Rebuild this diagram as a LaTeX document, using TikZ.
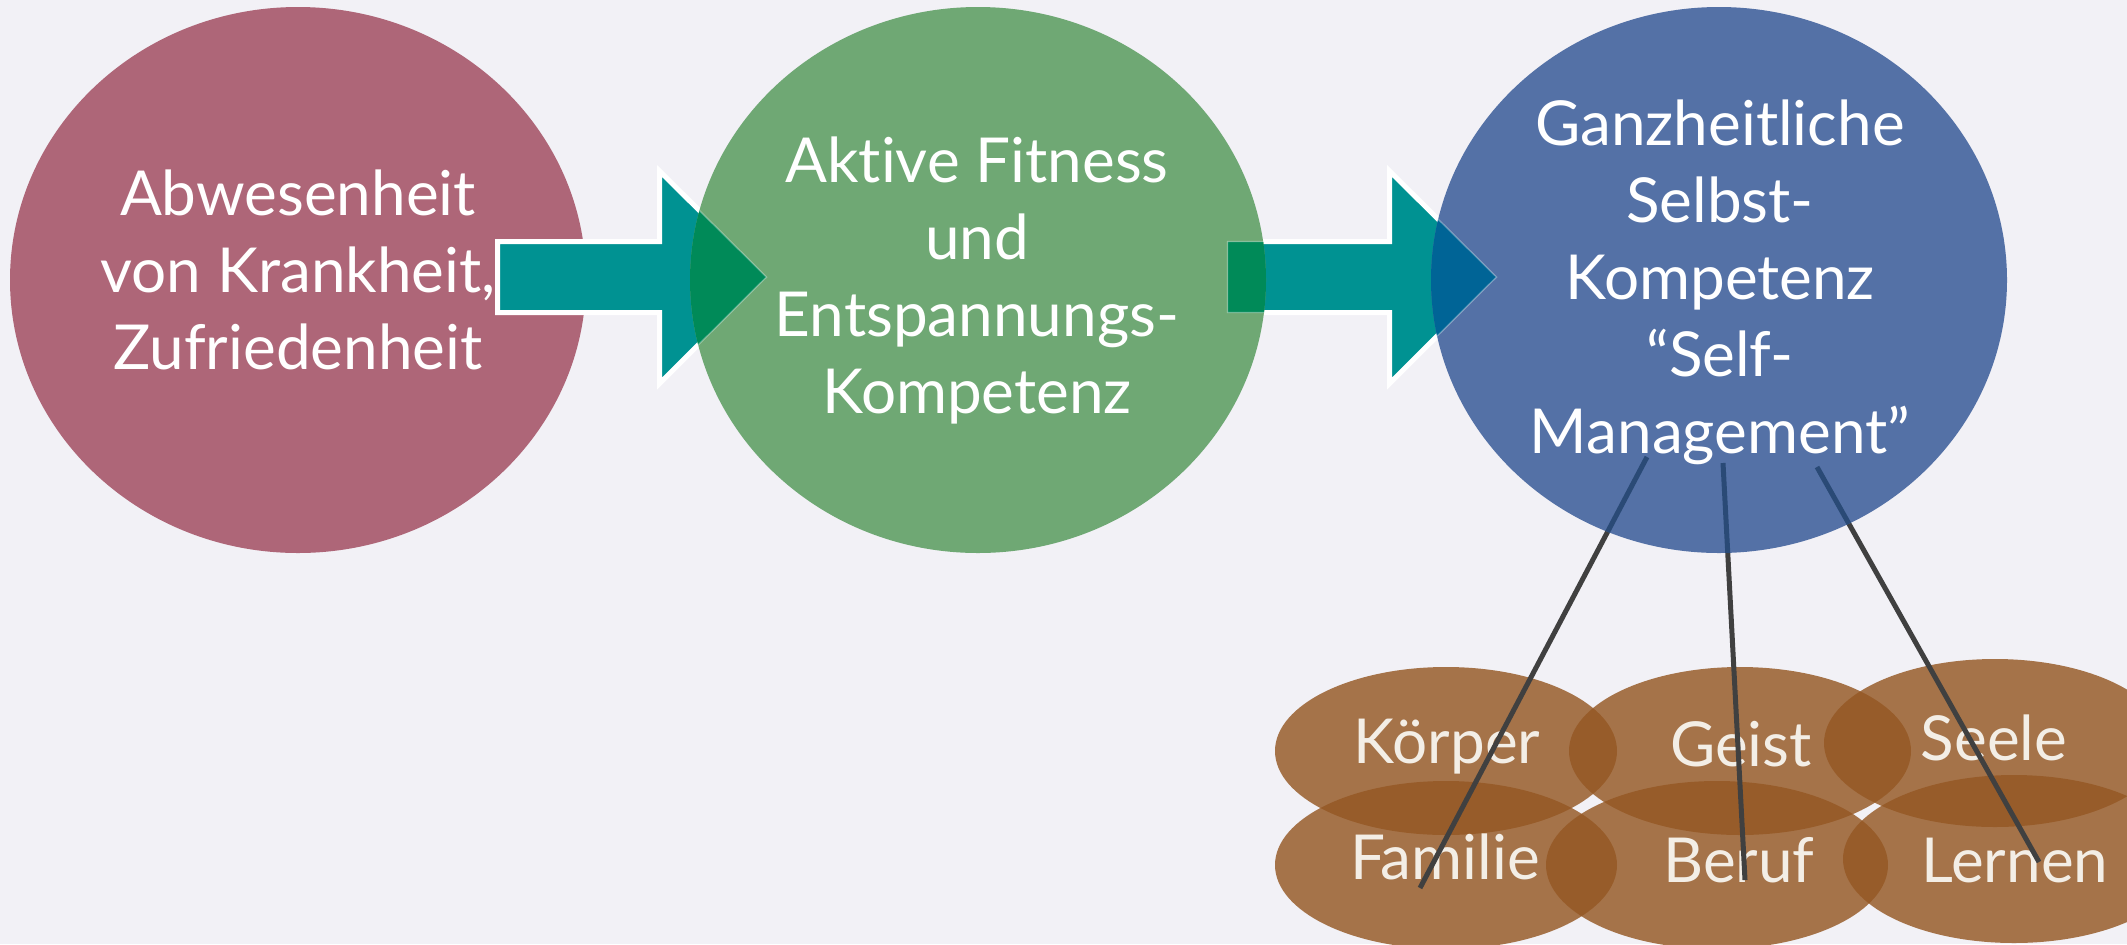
\documentclass[tikz,border=0pt]{standalone}
\usepackage{fontspec}
\setmainfont{Lato}[Ligatures=CommonOff]
\usetikzlibrary{shapes.geometric}
\definecolor{cBg}{RGB}{242,241,246}
\definecolor{cMaroon}{RGB}{174,102,120}
\definecolor{cGreen}{RGB}{111,168,116}
\definecolor{cBlue}{RGB}{84,113,166}
\definecolor{cTeal}{RGB}{0,146,146}
\definecolor{cTealG}{RGB}{0,138,88}
\definecolor{cTealB}{RGB}{0,100,150}
\definecolor{cBrown}{RGB}{149,88,36}
\definecolor{cLine}{RGB}{64,64,64}
\definecolor{cLineB}{RGB}{42,74,118}
\definecolor{cCream}{RGB}{243,238,230}
\newcommand\tfont{\fontsize{31pt}{38.5pt}\selectfont}
\newcommand\arrowshape{(497.5,241.5) -- (659.5,241.5) -- (659.5,171) -- (766.5,277) -- (659.5,383.5) -- (659.5,312.5) -- (497.5,312.5) -- cycle}
\newcommand\lines[1]{\begin{tabular}[t]{@{}c@{}}#1\end{tabular}}
\tikzset{
  bigell/.style={ellipse, inner sep=0pt, minimum width=288pt, minimum height=273pt, draw=none},
  smallell/.style={ellipse, inner sep=0pt, minimum width=171pt, minimum height=84pt, draw=none, fill=cBrown, fill opacity=0.82},
  maintext/.style={anchor=base, inner sep=0pt, text=white, font=\tfont},
  subtext/.style={anchor=base, inner sep=0pt, text=cCream, font=\tfont},
  blockarrow/.style={fill=cTeal, draw=white, line width=2.5pt, line join=miter},
  faint/.style={draw=white, draw opacity=0.35, line width=0.7pt},
  link/.style={draw=cLine, line width=2.5pt},
  linkin/.style={draw=cLineB, line width=2.5pt}
}
\begin{document}
\begin{tikzpicture}[x=0.5pt,y=-0.5pt]
\fill[cBg] (0,0) rectangle (2127,944);
\useasboundingbox (0,0) rectangle (2127,944);

% lower cluster
\node[smallell] (B1) at (1446,751) {};
\node[smallell] (B2) at (1740,751) {};
\node[smallell] (B3) at (1995,743) {};
\node[smallell] (B4) at (1446,865) {};
\node[smallell] (B5) at (1717,865) {};
\node[smallell] (B6) at (2014,859) {};
\node[subtext] (K1) at (1447,763) {Körper};
\node[subtext] (K2) at (1741,766) {Geist};
\node[subtext] (K3) at (1994,760) {Seele};
\node[subtext] (K4) at (1445,879) {Familie};
\node[subtext] (K5) at (1739,882) {Beruf};
\node[subtext] (K6) at (2015,882) {Lernen};

% connector ends
\coordinate (L1s) at (1647,457); \coordinate (L1e) at (1420,888);
\coordinate (L2s) at (1723,463); \coordinate (L2e) at (1745,880);
\coordinate (L3s) at (1817,467); \coordinate (L3e) at (2039,862);
\draw[link] (L1s) -- (L1e);
\draw[link] (L2s) -- (L2e);
\draw[link] (L3s) -- (L3e);

% big ellipses and arrows
\node[bigell, fill=cMaroon] (E1) at (298,280) {};
\path[blockarrow] \arrowshape;
\begin{scope}[shift={(730,0)}]
  \path[blockarrow] \arrowshape;
\end{scope}
\node[bigell, fill=cGreen] (E2) at (978,280) {};
\node[bigell, fill=cBlue] (E3) at (1719,280) {};

% overlaps
\begin{scope}
  \clip (E2.center) ellipse [x radius=288, y radius=273];
  \path[fill=cTealG] \arrowshape;
  \path[faint] \arrowshape;
  \begin{scope}[shift={(730,0)}]
    \path[fill=cTealG] \arrowshape;
    \path[faint] \arrowshape;
  \end{scope}
\end{scope}
\begin{scope}
  \clip (E3.center) ellipse [x radius=288, y radius=273];
  \begin{scope}[shift={(730,0)}]
    \path[fill=cTealB] \arrowshape;
    \path[faint] \arrowshape;
  \end{scope}
  \draw[linkin] (L1s) -- (L1e);
  \draw[linkin] (L2s) -- (L2e);
  \draw[linkin] (L3s) -- (L3e);
\end{scope}

% texts
\node[maintext] (T1) at (298,215) {\lines{Abwesenheit\\von Krankheit,\\Zufriedenheit}};
\node[maintext] (T2) at (977,182) {\lines{Aktive Fitness\\und\\Entspannungs-\\Kompetenz}};
\node[maintext] (T3) at (1720,145) {\lines{Ganzheitliche\\Selbst-\\Kompetenz\\“Self-\\Management”}};
\end{tikzpicture}
\end{document}
